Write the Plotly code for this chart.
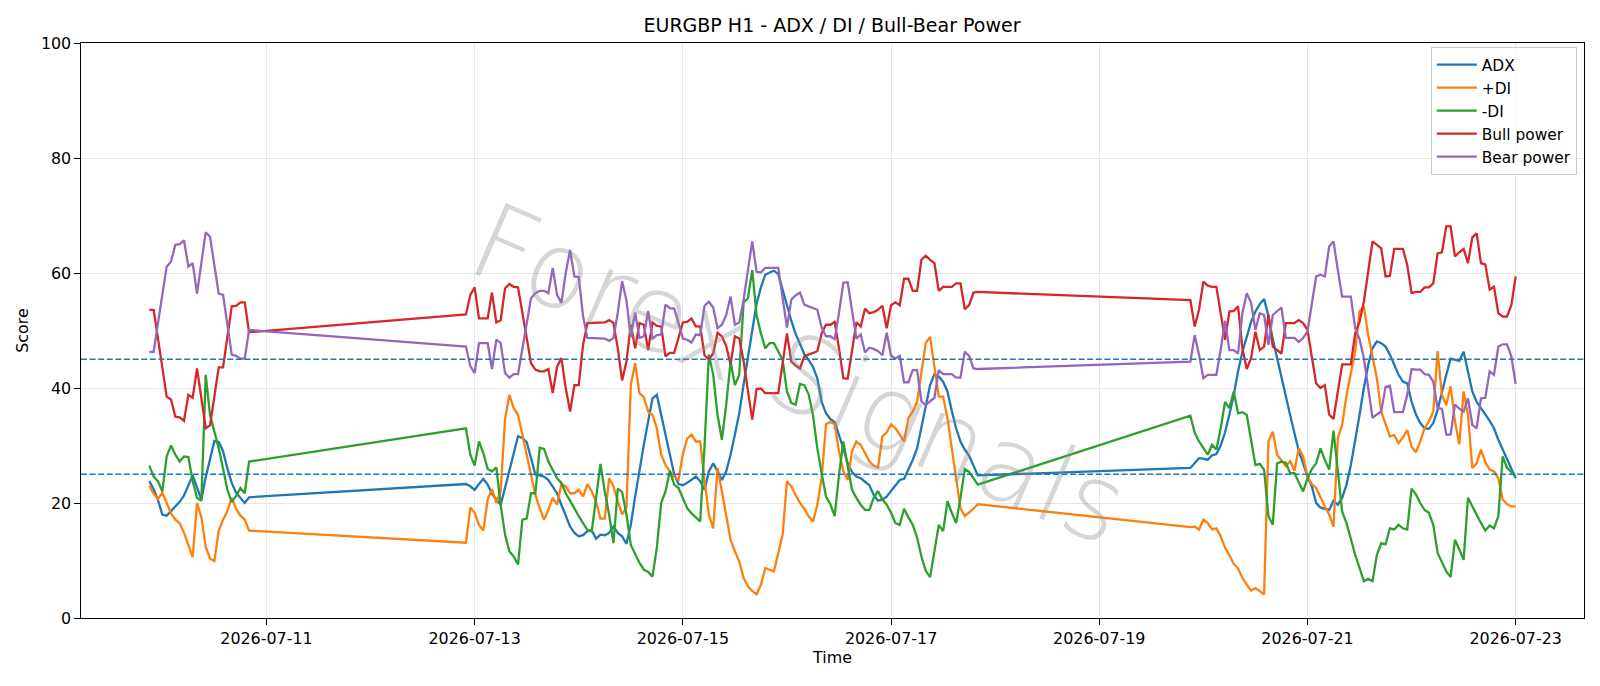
import pandas as pd
import plotly.graph_objects as go

# ---- time segments (hourly bars, weekend gaps) ----
seg_starts = ["2026-07-09 21:00", "2026-07-12 22:00", "2026-07-19 21:00"]
seg_lengths = [24, 119, 76]

# ---- series values ----
adx = [
    # seg 1
    23.8, 22.4, 20.5, 18.0, 17.8, 18.6, 19.4, 20.2, 21.3, 23.0, 24.8, 22.7,
    20.6, 24.5, 27.8, 30.8, 30.6, 29.0, 26.0, 23.5, 21.8, 20.9, 20.0, 21.0,
    # seg 2
    23.3, 22.9, 22.3, 23.3, 24.2, 23.2, 21.6, 20.6, 19.7, 22.6, 25.5, 28.4,
    31.6, 31.3, 30.6, 27.8, 24.9, 24.8, 24.6, 24.0, 22.9, 21.7,
    19.7, 17.7, 15.9, 14.8, 14.2, 14.4, 15.1, 15.2, 13.8, 14.5,
    14.4, 14.8, 15.9, 14.8, 14.2, 12.9, 16.2, 21.1, 25.8, 30.1,
    34.2, 38.2, 38.8, 35.3, 31.6, 28.1, 25.0, 23.3, 23.1, 23.5,
    24.0, 24.6, 23.8, 22.3, 25.5, 26.9, 25.5, 24.0, 25.5, 28.4,
    31.9, 35.6, 40.6, 45.2, 50.1, 54.7, 57.5, 59.7, 60.1, 60.4,
    59.8, 57.1, 54.2, 51.7, 49.4, 47.5, 45.9, 44.9, 43.7, 41.7,
    37.6, 35.6, 34.6, 34.1, 31.9, 29.5, 26.9, 25.4, 24.6, 24.3,
    23.7, 23.1, 21.4, 20.4, 20.6, 21.1, 22.1, 23.1, 24.0, 24.2,
    25.8, 27.5, 29.5, 33.0, 37.1, 40.5, 42.4, 42.0, 41.1, 39.4,
    36.0, 33.0, 30.7, 29.3, 28.2, 26.5, 24.8,
    # seg 3
    26.1, 26.9, 27.8, 27.7, 27.5, 28.3, 28.5, 30.0, 32.3, 35.4,
    38.8, 42.9, 46.3, 48.9, 51.5, 53.3, 54.6, 55.5, 52.5, 48.5,
    45.0, 41.8, 38.6, 35.3, 31.9, 29.0, 26.9, 24.6, 22.9, 20.0,
    19.2, 19.0, 18.8, 20.4, 19.7, 20.9, 23.2, 26.6, 30.7, 35.3,
    40.0, 44.0, 46.9, 48.1, 47.8, 47.2, 45.8, 44.0, 42.3, 41.1,
    40.8, 37.6, 35.4, 33.9, 33.0, 32.9, 33.9, 36.2, 39.4, 42.3,
    45.1, 44.9, 44.7, 46.3, 42.9, 39.4, 37.6, 36.6, 35.4, 34.3,
    33.0, 31.0, 29.3, 27.5, 26.1, 24.3,
]

plus_di = [
    # seg 1
    23.0, 21.6, 20.7, 21.8, 20.0, 18.2, 17.1, 16.5, 14.8, 12.7, 10.6, 20.0,
    17.5, 12.4, 10.3, 9.9, 15.2, 17.1, 18.6, 20.9, 19.0, 17.8, 17.1, 15.2,
    # seg 2
    13.1, 19.2, 18.3, 16.2, 15.2, 20.6, 22.4, 20.0, 22.1, 34.5, 38.8, 36.5,
    35.3, 31.9, 28.4, 24.3, 21.4, 19.1, 17.1, 18.8, 20.9, 19.7,
    23.3, 22.9, 21.7, 21.7, 22.3, 21.1, 23.3, 22.0, 20.2, 17.3,
    17.3, 24.3, 22.9, 20.3, 18.0, 19.2, 40.5, 44.3, 39.1, 38.4,
    35.9, 35.3, 33.0, 28.4, 26.6, 25.5, 24.6, 24.0, 28.5, 31.2,
    31.9, 30.7, 30.7, 24.0, 18.0, 15.6, 26.1, 22.0, 18.0, 13.6,
    11.6, 9.8, 7.0, 5.5, 4.7, 4.1, 5.8, 8.7, 8.4, 8.1,
    11.3, 14.5, 23.8, 22.9, 21.4, 20.0, 19.0, 17.7, 16.8, 19.7,
    24.3, 33.7, 34.1, 33.7, 29.0, 25.5, 24.0, 29.0, 30.7, 30.1,
    28.7, 27.2, 26.5, 26.2, 31.6, 32.3, 33.7, 33.0, 31.9, 30.7,
    34.8, 35.9, 37.6, 42.3, 47.8, 48.9, 43.7, 38.5, 38.5, 34.8,
    29.5, 24.3, 19.1, 17.7, 18.3, 19.0, 19.8,
    # seg 3
    15.8, 15.9, 15.4, 17.1, 16.5, 15.4, 15.6, 14.2, 12.2, 10.9,
    9.4, 8.6, 7.0, 5.8, 4.8, 5.2, 4.6, 4.1, 30.7, 32.4,
    28.4, 27.3, 26.4, 27.3, 25.6, 29.5, 28.1, 24.6, 23.3, 22.6,
    20.9, 19.4, 18.0, 15.9, 31.3, 33.6, 38.8, 42.9, 46.3, 53.3,
    54.2, 49.2, 45.2, 41.7, 35.9, 33.9, 31.6, 31.8, 30.4, 31.4,
    32.7, 29.8, 28.8, 30.7, 33.0, 34.2, 35.9, 46.4, 38.8, 37.0,
    40.3, 34.2, 30.2, 39.4, 35.3, 26.1, 26.9, 29.3, 27.1, 25.8,
    25.5, 24.3, 20.6, 19.8, 19.4, 19.4,
]

minus_di = [
    # seg 1
    26.5, 24.6, 23.8, 22.0, 28.1, 30.0, 28.4, 27.2, 28.1, 28.0, 23.8, 20.9,
    20.4, 42.3, 35.3, 32.4, 29.5, 26.0, 22.3, 20.2, 21.2, 22.6, 21.7, 27.2,
    # seg 2
    33.0, 28.4, 26.5, 30.7, 28.7, 25.9, 25.5, 26.2, 19.7, 14.5, 11.6, 10.7,
    9.3, 17.1, 17.3, 21.7, 21.7, 29.6, 29.4, 27.2, 25.8, 24.3,
    23.5, 21.7, 20.4, 19.0, 17.7, 16.5, 15.3, 15.1, 20.8, 26.8,
    22.0, 18.0, 13.0, 22.5, 21.9, 18.0, 12.7, 11.1, 9.6, 8.4,
    8.0, 7.2, 12.2, 20.0, 22.0, 25.6, 23.2, 22.6, 20.7, 19.1,
    18.2, 17.5, 16.8, 30.0, 45.8, 42.3, 35.3, 31.0, 37.1, 44.6,
    40.5, 42.3, 54.9, 55.6, 60.5, 52.7, 49.5, 46.9, 47.8, 47.8,
    46.3, 44.9, 39.4, 37.4, 37.1, 40.7, 40.5, 38.9, 35.3, 29.5,
    25.2, 21.1, 19.8, 17.7, 24.9, 30.7, 26.4, 22.3, 20.9, 19.7,
    18.8, 18.8, 20.9, 22.1, 20.6, 19.7, 18.3, 16.5, 16.2, 19.0,
    17.5, 16.2, 14.0, 10.7, 8.2, 7.1, 11.6, 16.2, 15.1, 20.3,
    18.3, 16.5, 20.9, 25.9, 25.4, 24.3, 23.2,
    # seg 3
    35.2, 32.2, 30.7, 29.5, 28.4, 30.1, 29.3, 33.0, 37.6, 36.5,
    39.4, 35.6, 35.8, 35.3, 31.3, 26.6, 26.8, 25.8, 17.7, 16.2,
    26.9, 27.2, 27.0, 25.2, 25.2, 23.5, 22.0, 24.3, 25.9, 26.9,
    29.5, 27.5, 25.8, 32.6, 26.1, 18.5, 16.5, 13.6, 11.0, 8.7,
    6.4, 6.8, 6.4, 11.0, 13.0, 12.8, 15.6, 15.4, 16.2, 15.6,
    15.4, 22.5, 21.5, 20.0, 18.8, 18.3, 16.2, 11.3, 9.6, 8.1,
    7.1, 13.6, 11.9, 10.1, 20.9, 19.4, 18.0, 16.5, 15.2, 16.1,
    15.6, 17.7, 28.1, 26.1, 25.4, 24.6,
]

bull_power = [
    # seg 1
    53.6, 53.6, 48.6, 43.5, 38.5, 38.0, 35.0, 34.9, 34.3, 38.8, 38.3, 43.4,
    38.2, 33.0, 33.5, 38.5, 43.6, 43.6, 49.0, 54.2, 54.3, 54.9, 54.9, 49.7,
    # seg 2
    52.8, 56.2, 57.5, 52.1, 52.1, 52.1, 56.6, 51.4, 51.8, 57.3, 58.1, 57.6,
    57.5, 53.3, 48.7, 44.3, 43.2, 42.9, 42.9, 43.3, 39.1, 43.7,
    45.2, 40.0, 35.9, 40.5, 40.5, 47.5, 51.3, 51.3, 51.3, 51.3,
    51.4, 51.8, 51.3, 46.9, 41.3, 44.6, 51.0, 46.9, 51.3, 51.0,
    46.6, 51.4, 50.8, 50.7, 45.5, 46.1, 46.1, 48.7, 51.4, 51.5,
    52.1, 50.7, 50.7, 45.7, 45.0, 46.0, 49.6, 49.0, 47.3, 44.1,
    49.0, 48.6, 44.7, 39.5, 34.5, 39.8, 39.9, 39.1, 39.1, 39.1,
    39.1, 44.3, 49.5, 44.6, 43.9, 43.4, 45.5, 45.8, 46.1, 46.4,
    49.5, 51.0, 51.0, 51.5, 46.9, 41.7, 41.6, 46.9, 51.4, 50.7,
    53.8, 53.0, 53.2, 53.6, 54.3, 50.4, 54.4, 54.9, 54.4, 59.0,
    59.0, 56.9, 56.9, 62.3, 63.0, 62.3, 61.7, 56.9, 57.6, 57.6,
    57.6, 58.2, 58.2, 53.7, 54.4, 56.6, 56.7,
    # seg 3
    55.3, 50.7, 53.6, 58.5, 57.8, 57.6, 57.6, 53.3, 48.4, 53.3,
    53.4, 54.2, 46.9, 43.3, 45.2, 49.8, 46.6, 47.2, 52.7, 47.2,
    46.6, 46.0, 51.3, 51.3, 51.3, 51.8, 51.3, 50.1, 45.2, 40.8,
    40.0, 40.5, 35.4, 34.6, 39.4, 44.1, 44.1, 44.1, 49.5, 51.5,
    55.0, 60.2, 65.5, 64.9, 64.3, 59.4, 59.5, 64.2, 64.2, 64.2,
    61.4, 56.5, 56.7, 56.7, 57.5, 57.5, 58.2, 63.4, 63.6, 68.1,
    68.1, 62.9, 63.6, 64.2, 61.7, 66.2, 66.9, 61.7, 61.5, 57.1,
    57.6, 53.0, 52.4, 52.4, 54.4, 59.4,
]

bear_power = [
    # seg 1
    46.3, 46.3, 51.3, 56.2, 61.1, 62.0, 64.9, 65.0, 65.7, 61.1, 61.7, 56.4,
    61.8, 67.1, 66.3, 61.4, 56.4, 56.2, 51.0, 45.8, 45.6, 45.1, 45.1, 50.1,
    # seg 2
    47.2, 43.8, 42.6, 47.8, 47.8, 47.8, 43.3, 48.4, 47.8, 42.6, 41.8, 42.4,
    42.4, 46.7, 51.3, 55.6, 56.5, 56.9, 56.9, 56.5, 60.9, 56.2,
    54.8, 60.0, 64.0, 59.4, 59.3, 52.5, 48.7, 48.7, 48.7, 48.7,
    48.6, 48.2, 48.7, 53.1, 58.6, 55.2, 48.9, 53.1, 48.7, 49.0,
    53.4, 48.6, 49.2, 49.3, 54.5, 53.9, 53.8, 51.3, 48.6, 48.4,
    47.9, 49.3, 49.2, 54.3, 55.0, 54.0, 50.4, 51.0, 52.7, 55.9,
    51.0, 51.4, 55.3, 60.5, 65.5, 60.2, 60.1, 60.9, 60.9, 60.9,
    60.9, 55.7, 50.5, 55.4, 56.1, 56.6, 54.5, 54.2, 53.9, 53.6,
    50.5, 49.0, 49.0, 48.5, 53.1, 58.3, 58.4, 53.1, 48.6, 49.3,
    46.2, 47.0, 46.8, 46.4, 45.7, 49.6, 45.6, 45.1, 45.6, 41.0,
    41.0, 43.1, 43.1, 37.7, 37.0, 37.7, 38.3, 43.1, 42.4, 42.4,
    42.4, 41.8, 41.8, 46.3, 45.6, 43.4, 43.3,
    # seg 3
    44.6, 49.2, 45.8, 41.7, 42.3, 42.3, 42.3, 46.7, 51.7, 46.6,
    46.6, 46.0, 53.1, 56.5, 54.8, 50.1, 53.0, 52.7, 47.5, 52.7,
    53.3, 54.0, 48.7, 48.7, 48.7, 48.0, 48.7, 49.8, 54.4, 59.4,
    59.7, 59.4, 64.6, 65.5, 60.5, 55.9, 55.9, 55.9, 50.4, 48.5,
    45.2, 40.0, 34.8, 35.4, 35.9, 40.2, 40.4, 35.8, 35.8, 35.8,
    38.8, 43.3, 43.2, 43.2, 42.4, 42.3, 41.1, 36.5, 36.4, 31.9,
    31.9, 37.1, 36.4, 35.9, 38.2, 33.6, 33.0, 38.2, 38.3, 42.9,
    42.3, 47.2, 47.6, 47.6, 45.5, 40.7,
]

tick_dates = ["2026-07-11", "2026-07-13", "2026-07-15", "2026-07-17",
              "2026-07-19", "2026-07-21", "2026-07-23"]
y_ticks = [0, 20, 40, 60, 80, 100]
threshold_levels = [45, 25]

# ---- build time index ----
times = []
for s, n in zip(seg_starts, seg_lengths):
    times.extend(pd.date_range(s, periods=n, freq="h"))
n_total = len(times)
for arr in (adx, plus_di, minus_di, bull_power, bear_power):
    assert len(arr) == n_total, (len(arr), n_total)

series = [
    ("ADX", adx, "#1f77b4"),
    ("+DI", plus_di, "#ff7f0e"),
    ("-DI", minus_di, "#2ca02c"),
    ("Bull power", bull_power, "#d62728"),
    ("Bear power", bear_power, "#9467bd"),
]

FONT = "DejaVu Sans"
FS = 15.9
fig = go.Figure()
for name, vals, color in series:
    fig.add_trace(go.Scatter(x=times, y=vals, mode="lines", name=name,
                             line=dict(color=color, width=2.3)))

for lvl in threshold_levels:
    fig.add_hline(y=lvl, line=dict(color="#1f77b4", width=1.5, dash="6px,2.6px"))

fig.add_annotation(text="Forex Signals", xref="paper", yref="paper",
                   x=0.478, y=0.424, showarrow=False, textangle=23.4,
                   font=dict(family=FONT, size=106, color="rgba(140,140,140,0.36)",
                             weight=200))

axis_common = dict(showgrid=True, gridcolor="#e6e6e6", gridwidth=1.2,
                   showline=True, mirror=True, linecolor="black", linewidth=1.2,
                   ticks="outside", ticklen=5.5, tickwidth=1.2, tickcolor="black",
                   tickfont=dict(family=FONT, size=FS, color="black"),
                   zeroline=False)

fig.update_layout(
    width=1600, height=686,
    margin=dict(l=81, r=16, t=43, b=68),
    paper_bgcolor="white", plot_bgcolor="white",
    font=dict(family=FONT, color="black"),
    title=dict(text="EURGBP H1 - ADX / DI / Bull-Bear Power", x=0.52, xanchor="center",
               y=1 - 25.5 / 686, yanchor="middle",
               font=dict(family=FONT, size=19, color="black")),
    xaxis=dict(type="date", range=["2026-07-09 05:15", "2026-07-23 15:45"],
               tickvals=tick_dates, ticktext=tick_dates,
               title=dict(text="Time", standoff=4, font=dict(family=FONT, size=FS)),
               **axis_common),
    yaxis=dict(range=[0, 100], tickvals=y_ticks,
               title=dict(text="Score", standoff=8, font=dict(family=FONT, size=FS)),
               **axis_common),
    legend=dict(x=0.9952, y=0.993, xanchor="right", yanchor="top",
                bgcolor="rgba(255,255,255,0.8)", bordercolor="#cccccc", borderwidth=1,
                itemwidth=40,
                font=dict(family=FONT, size=15.4, color="black")),
    showlegend=True,
)

fig.write_html("out.html")
